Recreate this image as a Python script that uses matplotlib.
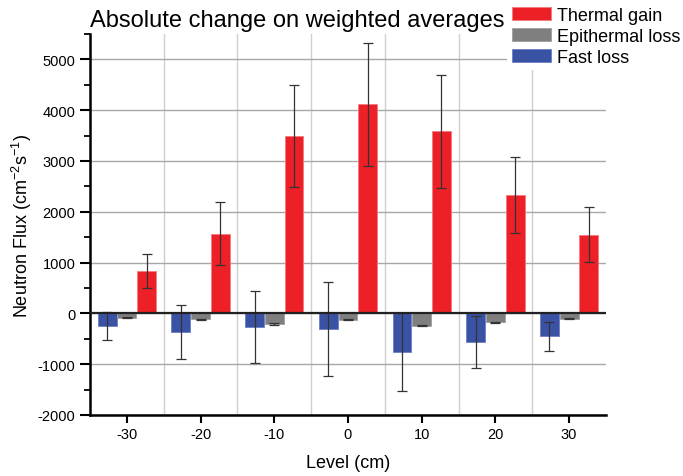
import numpy as np
import matplotlib.pyplot as plt
from matplotlib.ticker import MultipleLocator, FixedLocator

plt.rcParams['font.family'] = ['Liberation Sans', 'DejaVu Sans']
plt.rcParams['axes.unicode_minus'] = False
plt.rcParams['mathtext.default'] = 'regular'

# data
levels = [-30, -20, -10, 0, 10, 20, 30]
fast_loss = [-250, -367, -270, -312, -762, -560, -448]
fast_err = [280, 540, 715, 930, 763, 515, 285]
epi_loss = [-82, -118, -209, -124, -243, -178, -105]
epi_err = [10, 12, 12, 12, 12, 12, 10]
thermal_gain = [838, 1565, 3500, 4118, 3581, 2321, 1553]
thermal_err = [335, 620, 1005, 1213, 1110, 748, 532]

red = "#ed2027"
gray = "#7f7f7f"
blue = "#3a52a4"

fig = plt.figure(figsize=(6.83, 4.77), dpi=100)
ax = fig.add_axes([90 / 683, 1 - 416 / 477, 516 / 683, 381 / 477])

x = np.array(levels, dtype=float)
w = 2.55
off = 2.67
ekw = dict(ecolor="#333333", elinewidth=0.9, capsize=3.5, capthick=0.9)

b_fast = ax.bar(x - off, fast_loss, w, yerr=fast_err, color=blue,
                edgecolor="#6b7fc4", linewidth=0.6, error_kw=ekw, zorder=3,
                label="Fast loss")
b_epi = ax.bar(x, epi_loss, w, yerr=epi_err, color=gray,
               edgecolor="#a0a0a0", linewidth=0.6, error_kw=ekw, zorder=3,
               label="Epithermal loss")
b_th = ax.bar(x + off, thermal_gain, w, yerr=thermal_err, color=red,
              edgecolor="#f47a80", linewidth=0.6, error_kw=ekw, zorder=3,
              label="Thermal gain")

ax.axhline(0, color="#222222", lw=1.6, zorder=4)

ax.set_xlim(-35, 35)
ax.set_ylim(-2000, 5500)
ax.set_xticks(levels)
ax.xaxis.set_minor_locator(FixedLocator([-25, -15, -5, 5, 15, 25]))
ax.yaxis.set_major_locator(FixedLocator([-2000, -1000, 0, 1000, 2000, 3000, 4000, 5000]))
ax.yaxis.set_minor_locator(MultipleLocator(500))

ax.grid(axis="x", which="minor", color="#cfcfcf", lw=1.0, zorder=0)
ax.grid(axis="y", which="major", color="#a8a8a8", lw=1.0, zorder=0)

for s in ["top", "right"]:
    ax.spines[s].set_visible(False)
for s in ["left", "bottom"]:
    ax.spines[s].set_linewidth(1.8)

ax.tick_params(axis="both", which="major", direction="out", width=1.5,
               labelsize=10.5, pad=3)
ax.tick_params(axis="y", which="major", length=7.5)
ax.tick_params(axis="x", which="major", length=6)
ax.tick_params(axis="y", which="minor", direction="out", length=4.5, width=1.3)
ax.tick_params(axis="x", which="minor", length=0)

ax.set_xlabel("Level (cm)", fontsize=13, labelpad=9)
ax.set_ylabel("Neutron Flux (cm$^{-2}$s$^{-1}$)", fontsize=13, labelpad=3)

fig.text(90 / 683, 1 - 27 / 477, "Absolute change on weighted averages",
         fontsize=17, ha="left", va="baseline")

leg = fig.legend(handles=[b_th, b_epi, b_fast],
                 labels=["Thermal gain", "Epithermal loss", "Fast loss"],
                 loc="upper left", bbox_to_anchor=(507 / 683, 1 - 3 / 477),
                 fontsize=13, frameon=True, fancybox=False, framealpha=1,
                 edgecolor="none", facecolor="white", handlelength=2.2,
                 handleheight=0.75, handletextpad=0.3, labelspacing=0.23,
                 borderpad=0.25, borderaxespad=0)

fig.savefig("out.png", dpi=100)
